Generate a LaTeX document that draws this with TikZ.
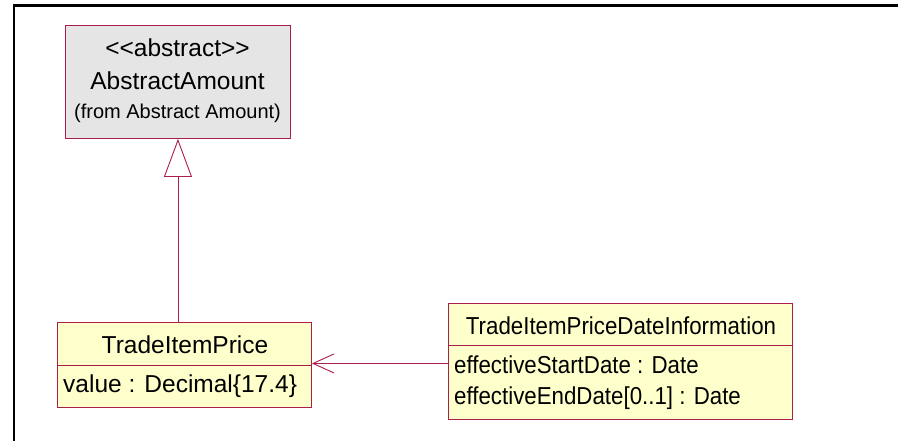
\documentclass[tikz,border=0pt]{standalone}
\usepackage{fontspec}
\usepackage{graphicx}
\setmainfont{Liberation Sans}[Ligatures=TeXOff]
\usetikzlibrary{arrows.meta}
\definecolor{umlred}{RGB}{170,30,75}
\definecolor{umlyel}{RGB}{255,255,204}
\definecolor{umlgray}{RGB}{229,229,229}
\newcommand{\narrow}[1]{\scalebox{0.91}[1]{#1}}
\begin{document}
\begin{tikzpicture}[x=1pt,y=-1pt,
  classbox/.style={draw=umlred, line width=0.9pt, inner sep=0pt, anchor=north west},
  yelbox/.style={classbox, fill=umlyel},
  graybox/.style={classbox, fill=umlgray},
  divider/.style={draw=umlred, line width=0.9pt},
  txt/.style={inner sep=0pt, font=\fontsize{24.5}{29}\selectfont},
  subtxt/.style={inner sep=0pt, font=\fontsize{20}{24}\selectfont},
  gen/.style={draw=umlred, line width=0.9pt, -{Triangle[open, length=38pt, width=28pt, fill=white]}},
  assoc/.style={draw=umlred, line width=0.9pt, -{Straight Barb[length=21pt, width=19pt]}}
]
\useasboundingbox (0,0) rectangle (898,440);
\draw[line width=2.5pt] (14,441) -- (14,5.3) -- (899,5.3);

% AbstractAmount
\node[graybox, minimum width=225pt, minimum height=113pt] (abs) at (65,25) {};
\node[txt, anchor=base] (absS) at (177.5,56.5) {<<abstract>>};
\node[txt, anchor=base] (absN) at (177.5,89.5) {AbstractAmount};
\node[subtxt, anchor=base] (absF) at (177.5,118.5) {(from Abstract Amount)};

% TradeItemPrice
\node[yelbox, minimum width=254pt, minimum height=85pt] (tip) at (57,322) {};
\draw[divider] (57,365) -- (311,365);
\node[txt, anchor=base] (tipN) at (185,353) {TradeItemPrice};
\node[txt, anchor=base west] (tipA) at (63,392.5) {value : Decimal\{17.4\}};

% TradeItemPriceDateInformation
\node[yelbox, minimum width=344pt, minimum height=116pt] (tid) at (448,303) {};
\draw[divider] (448,345) -- (792,345);
\node[txt, anchor=base] (tidN) at (621,334) {\narrow{TradeItemPriceDateInformation}};
\node[txt, anchor=base west] (tidA) at (454,373) {\narrow{effectiveStartDate : Date}};
\node[txt, anchor=base west] (tidB) at (454,404) {\narrow{effectiveEndDate[0..1] : Date}};

% connectors
\draw[gen] (abs.south |- tip.north) -- (abs.south);
\draw[assoc] ([yshift=-2pt]tid.west) -- ([yshift=-2pt]tid.west -| tip.east);
\end{tikzpicture}
\end{document}
